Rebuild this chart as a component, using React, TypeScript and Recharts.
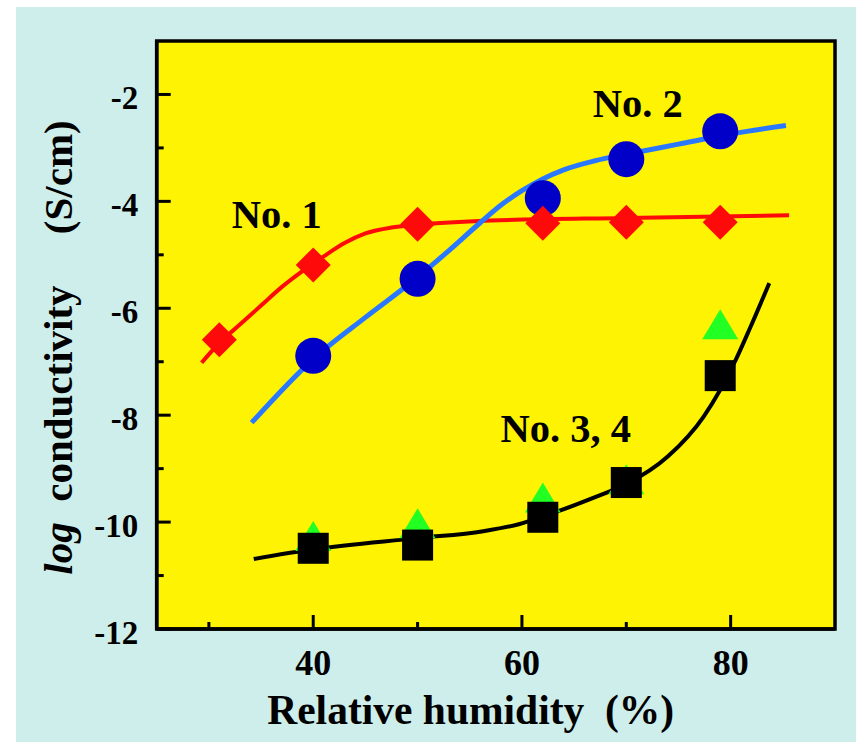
import {
  ComposedChart,
  Line,
  XAxis,
  YAxis,
  CartesianGrid,
  ReferenceArea,
  ReferenceDot,
  Label,
} from 'recharts';

const FONT = '"Liberation Serif", "Times New Roman", serif';

// axis ticks
const xTicks = [30, 40, 50, 60, 70, 80];
const xMajor = [40, 60, 80];
const yTicks = [-12, -11, -10, -9, -8, -7, -6, -5, -4, -3, -2];
const yMajor = [-12, -10, -8, -6, -4, -2];

// measured points: relative humidity (%) vs log conductivity
const rhNo1 = [31, 40, 50, 62, 70, 79];
const logNo1 = [-6.59, -5.19, -4.43, -4.41, -4.39, -4.39];
const rhOthers = [40, 50, 62, 70, 79];
const logNo2 = [-6.89, -5.45, -3.94, -3.21, -2.69];
const logNo3 = [-10.26, -10.02, -9.54, -9.2, -6.3];
const logNo4 = [-10.49, -10.43, -9.91, -9.26, -7.26];

// fitted curves
const fitRh1 = [29.3, 31, 33, 35, 37, 39, 41, 43, 45, 47.5, 50, 57, 70, 85.6];
const fitLog1 = [-7.02, -6.65, -6.3, -5.95, -5.6, -5.3, -5.03, -4.78, -4.6, -4.49, -4.44, -4.36, -4.31, -4.26];
const fitRh2 = [34.1, 40, 45, 50, 53, 56, 58, 60, 62, 64, 67, 70, 75, 80, 85.3];
const fitLog2 = [-8.14, -6.95, -6.17, -5.42, -4.92, -4.4, -4.07, -3.8, -3.58, -3.41, -3.24, -3.12, -2.93, -2.74, -2.58];
const fitRh34 = [34.3, 40, 50, 56.3, 59.7, 62.1, 67.2, 70, 74, 77.4, 80.5, 81.9, 83.7];
const fitLog34 = [-10.69, -10.51, -10.3, -10.17, -10.04, -9.89, -9.52, -9.29, -8.77, -8.03, -6.96, -6.35, -5.53];

// sample labels (anchored at text baseline centre)
const noteText = ['No. 1', 'No. 2', 'No. 3, 4'];
const noteRh = [36.5, 71.1, 64.2];
const noteLog = [-4.5, -2.42, -8.5];

const toRows = (xs: number[], ys: number[]) => xs.map((rh, i) => ({ rh, v: ys[i] }));

const no1Points = toRows(rhNo1, logNo1);
const no2Points = toRows(rhOthers, logNo2);
const no3Points = toRows(rhOthers, logNo3);
const no4Points = toRows(rhOthers, logNo4);
const fit1 = toRows(fitRh1, fitLog1);
const fit2 = toRows(fitRh2, fitLog2);
const fit34 = toRows(fitRh34, fitLog34);

const diamond = (p: any) => {
  const { cx, cy, index } = p;
  const h = 17.5;
  return (
    <polygon
      key={`d${index}`}
      points={`${cx},${cy - h} ${cx + h},${cy} ${cx},${cy + h} ${cx - h},${cy}`}
      fill="#ff0a0a"
    />
  );
};

const circle = (p: any) => (
  <circle key={`c${p.index}`} cx={p.cx} cy={p.cy} r={18} fill="#0000c8" />
);

const square = (p: any) => (
  <rect key={`s${p.index}`} x={p.cx - 15.5} y={p.cy - 15.5} width={31} height={31} fill="#000" />
);

const triangle = (p: any) => {
  const { cx, cy, index } = p;
  return (
    <polygon
      key={`t${index}`}
      points={`${cx},${cy - 15} ${cx + 18},${cy + 15} ${cx - 18},${cy + 15}`}
      fill="#22ff22"
    />
  );
};

const XTick = (props: any) => {
  const { x, y, payload } = props;
  const major = xMajor.includes(payload.value);
  return (
    <g>
      <line x1={x} x2={x} y1={y} y2={y - (major ? 14 : 7)} stroke="#000" strokeWidth={3} />
      {major && (
        <text x={x} y={y + 46} textAnchor="middle" fontFamily={FONT} fontWeight="bold" fontSize={36} fill="#000">
          {payload.value}
        </text>
      )}
    </g>
  );
};

const YTick = (props: any) => {
  const { x, y, payload } = props;
  const major = yMajor.includes(payload.value);
  return (
    <g>
      <line x1={x} x2={x + (major ? 14 : 7)} y1={y} y2={y} stroke="#000" strokeWidth={3} />
      {major && (
        <text x={x - 18.5} y={y + 15} textAnchor="end" fontFamily={FONT} fontWeight="bold" fontSize={33} fill="#000">
          {payload.value}
        </text>
      )}
    </g>
  );
};

const XTitle = (props: any) => {
  const vb = props.viewBox;
  return (
    <text
      x={vb.x + 314}
      y={vb.y + 95}
      textAnchor="middle"
      fontFamily={FONT}
      fontWeight="bold"
      fontSize={41.5}
      fill="#000"
      style={{ whiteSpace: 'pre' }}
    >
      {'Relative humidity  (%)'}
    </text>
  );
};

const YTitle = (props: any) => {
  const vb = props.viewBox;
  const cx = vb.x + 15.5;
  const cy = 347.5;
  return (
    <text
      transform={`translate(${cx}, ${cy}) rotate(-90)`}
      textAnchor="middle"
      fontFamily={FONT}
      fontWeight="bold"
      fontSize={41}
      fill="#000"
      style={{ whiteSpace: 'pre' }}
    >
      <tspan fontStyle="italic">log</tspan>
      <tspan>{'  conductivity     (S/cm)'}</tspan>
    </text>
  );
};

const noteLabel = (text: string) => (props: any) => {
  const vb = props.viewBox;
  return (
    <text x={vb.x + vb.width / 2} y={vb.y + vb.height / 2} textAnchor="middle" fontFamily={FONT} fontWeight="bold" fontSize={40.5} fill="#000">
      {text}
    </text>
  );
};

export default function App() {
  return (
    <div style={{ position: 'absolute', left: 0, top: 0, width: 859, height: 742, background: '#fff' }}>
      <div style={{ position: 'absolute', left: 16, top: 7, width: 840, height: 735, background: '#cdeeea' }} />
      <div style={{ position: 'absolute', left: 0, top: 0 }}>
        <ComposedChart width={859} height={742} margin={{ top: 41, right: 24, bottom: 53, left: 56.7 }}>
          <CartesianGrid horizontal={false} vertical={false} fill="#fdf302" stroke="none" />
          <XAxis
            type="number"
            dataKey="rh"
            domain={[25, 90]}
            ticks={xTicks}
            interval={0}
            allowDataOverflow
            height={60}
            tickLine={false}
            tickSize={0}
            tickMargin={0}
            axisLine={{ stroke: '#000', strokeWidth: 3.5 }}
            tick={<XTick />}
          >
            <Label content={<XTitle />} />
          </XAxis>
          <YAxis
            type="number"
            dataKey="v"
            domain={[-12, -1]}
            ticks={yTicks}
            interval={0}
            allowDataOverflow
            width={100}
            tickLine={false}
            tickSize={0}
            tickMargin={0}
            axisLine={{ stroke: '#000', strokeWidth: 3.5 }}
            tick={<YTick />}
          >
            <Label content={<YTitle />} />
          </YAxis>
          <ReferenceArea x1={25} x2={90} y1={-12} y2={-1} fill="none" stroke="#000" strokeWidth={3.5} fillOpacity={0} />

          <Line data={no2Points} dataKey="v" stroke="none" dot={circle} activeDot={false} isAnimationActive={false} />
          <Line data={fit1} dataKey="v" type="monotone" stroke="#ff0a0a" strokeWidth={4} dot={false} activeDot={false} isAnimationActive={false} />
          <Line data={fit2} dataKey="v" type="monotone" stroke="#2a78ff" strokeWidth={5} dot={false} activeDot={false} isAnimationActive={false} />
          <Line data={no1Points} dataKey="v" stroke="none" dot={diamond} activeDot={false} isAnimationActive={false} />
          <Line data={no3Points} dataKey="v" stroke="none" dot={triangle} activeDot={false} isAnimationActive={false} />
          <Line data={no4Points} dataKey="v" stroke="none" dot={square} activeDot={false} isAnimationActive={false} />
          <Line data={fit34} dataKey="v" type="monotone" stroke="#000" strokeWidth={4} dot={false} activeDot={false} isAnimationActive={false} />

          {noteText.map((t, i) => (
            <ReferenceDot
              key={t}
              x={noteRh[i]}
              y={noteLog[i]}
              r={0}
              fill="none"
              stroke="none"
              ifOverflow="visible"
              label={{ content: noteLabel(t) }}
            />
          ))}
        </ComposedChart>
      </div>
    </div>
  );
}
